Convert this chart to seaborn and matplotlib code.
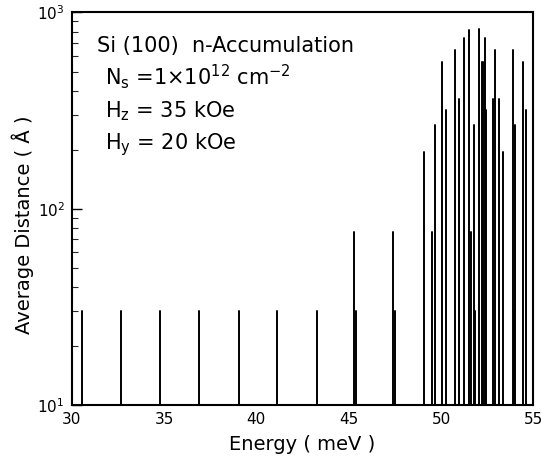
import numpy as np
import pandas as pd
import matplotlib
matplotlib.use("Agg")
import matplotlib.pyplot as plt
import seaborn as sns
from matplotlib.ticker import LogLocator, NullFormatter, FixedLocator

# ---- data ----
energy = [30.54, 32.65, 34.78, 36.91, 39.06, 41.14, 43.27,
          45.31, 45.42, 47.42, 47.53,
          49.10, 49.53, 49.70, 50.08, 50.29, 50.75, 50.96, 51.25, 51.52,
          51.65, 51.79, 51.85, 52.06, 52.24, 52.30, 52.39, 52.46, 52.82, 52.93,
          53.13, 53.36, 53.92, 53.96, 54.00, 54.43, 54.59]
distance = [30, 30, 30, 30, 30, 30, 30,
            76, 30, 76, 30,
            195, 76, 266, 560, 317, 645, 363, 741, 818,
            76, 266, 30, 828, 560, 560, 741, 317, 363, 645,
            363, 195, 645, 30, 266, 560, 317]
x_ticks = [30, 35, 40, 45, 50, 55]
y_major = [10, 100, 1000]
baseline = 10

# long-form table: each stem is a two-point line from the axis floor to its value
rows = []
for i, (e, d) in enumerate(zip(energy, distance)):
    rows.append({"id": i, "Energy": e, "Distance": baseline})
    rows.append({"id": i, "Energy": e, "Distance": d})
df = pd.DataFrame(rows)

sns.set_theme(style="white")
plt.rcParams["font.family"] = ["DejaVu Sans"]

fig = plt.figure(figsize=(5.42, 4.68), dpi=100)
ax = fig.add_axes([0.1323, 0.1346, 0.8517, 0.8387])
ax.set_yscale("log")

sns.lineplot(data=df, x="Energy", y="Distance", units="id", estimator=None,
             sort=False, color="black", linewidth=1.4, ax=ax, legend=False)

ax.set_xlim(30, 55)
ax.set_ylim(10, 1000)

for s in ax.spines.values():
    s.set_color("black")
    s.set_linewidth(1.5)
    s.set_visible(True)

ax.xaxis.set_major_locator(FixedLocator(x_ticks))
ax.set_xticklabels([str(t) for t in x_ticks])
ax.yaxis.set_major_locator(FixedLocator(y_major))
ax.yaxis.set_minor_locator(LogLocator(base=10, subs=np.arange(2, 10)))
ax.yaxis.set_minor_formatter(NullFormatter())
ax.set_yticklabels([r"$10^{1}$", r"$10^{2}$", r"$10^{3}$"])

ax.tick_params(axis="x", which="both", length=0, pad=5, labelsize=11, colors="black")
ax.tick_params(axis="y", which="major", direction="in", length=7, width=1.0,
               left=True, right=False, labelsize=11, pad=5, colors="black")
ax.tick_params(axis="y", which="minor", direction="in", length=4, width=0.8,
               left=True, right=False)

ax.set_xlabel("Energy ( meV )", fontsize=14, color="black", labelpad=6)
ax.set_ylabel("Average Distance ( Å )", fontsize=14, color="black")
ax.yaxis.set_label_coords(-0.082, 0.46)

txt = dict(transform=ax.transAxes, fontsize=15, color="black", va="baseline", ha="left")
ax.text(0.055, 0.899, "Si (100)  n-Accumulation", **txt)
ax.text(0.072, 0.817, r"N$_\mathregular{s}$ =1$\times$10$^{12}$ cm$^{-2}$", **txt)
ax.text(0.072, 0.734, r"H$_\mathregular{z}$ = 35 kOe", **txt)
ax.text(0.072, 0.650, r"H$_\mathregular{y}$ = 20 kOe", **txt)

fig.savefig("out.png", dpi=100)
